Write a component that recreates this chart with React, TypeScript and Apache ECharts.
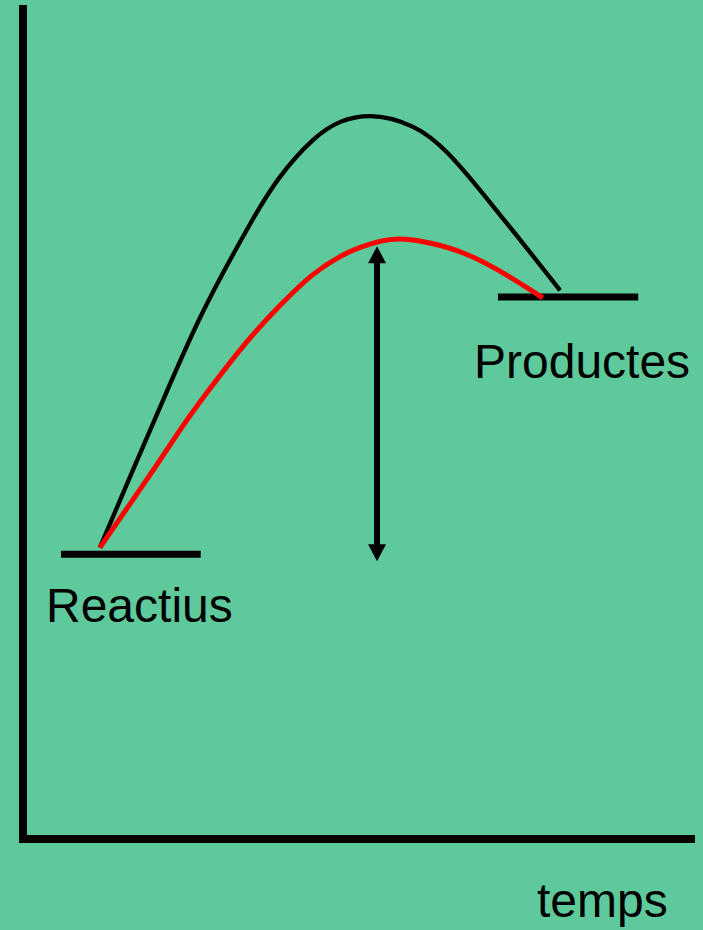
import React, { useEffect, useRef } from "react";
import * as echarts from "echarts";

// Energy diagram: x = temps (0-100), y = energia (0-100)
const blackCurve: number[][] = [
  [11.5, 35.1], [19.0, 49.2], [26.5, 62.8], [34.0, 74.1], [38.5, 79.8],
  [43.4, 84.2], [47.5, 86.4], [52.0, 87.1], [58.4, 85.8], [63.5, 82.7],
  [71.4, 75.2], [80.4, 66.1],
];
const redCurve: number[][] = [
  [11.5, 35.1], [19.8, 44.8], [24.3, 50.2], [28.4, 54.7], [33.5, 59.9],
  [38.5, 64.3], [43.4, 68.0], [48.5, 70.6], [53.4, 72.0], [56.4, 72.3],
  [60.9, 71.8], [65.9, 70.6], [71.0, 68.6], [77.8, 65.2],
];
const reactantLevel: number[][] = [[5.7, 34.3], [26.6, 34.3]];
const productLevel: number[][] = [[71.1, 65.3], [92.1, 65.3]];
const arrowX = 53.0;
const arrowEnds: number[] = [70.4, 34.5];
const labels = ["Reactius", "Productes", "temps"];

export default function App() {
  const ref = useRef<HTMLDivElement>(null);
  useEffect(() => {
    if (!ref.current) return;
    const chart = echarts.init(ref.current, undefined, { renderer: "svg" });
    const font = '48px "Liberation Sans", Arial, sans-serif';
    chart.setOption({
      animation: false,
      backgroundColor: "#5EC99B",
      grid: { left: 23, top: 9, width: 668, height: 830 },
      xAxis: {
        type: "value", min: 0, max: 100,
        axisLine: { show: true, onZero: false, lineStyle: { color: "#000", width: 8, cap: "square" } },
        axisTick: { show: false }, axisLabel: { show: false }, splitLine: { show: false },
      },
      yAxis: {
        type: "value", min: 0, max: 100,
        axisLine: { show: true, onZero: false, lineStyle: { color: "#000", width: 8, cap: "square" } },
        axisTick: { show: false }, axisLabel: { show: false }, splitLine: { show: false },
      },
      series: [
        {
          type: "line", data: reactantLevel, showSymbol: false, symbol: "none", clip: false, silent: true,
          lineStyle: { color: "#000", width: 7 },
        },
        {
          type: "line", data: productLevel, showSymbol: false, symbol: "none", clip: false, silent: true,
          lineStyle: { color: "#000", width: 7 },
        },
        {
          type: "line", data: blackCurve, smooth: 0.33, showSymbol: false, symbol: "none", clip: false, silent: true,
          lineStyle: { color: "#000", width: 4.3 },
        },
        {
          type: "line", data: redCurve, smooth: 0.3, showSymbol: false, symbol: "none", clip: false, silent: true,
          lineStyle: { color: "#FF0000", width: 5 },
        },
        {
          type: "line", data: [], silent: true,
          markLine: {
            silent: true,
            symbol: ["triangle", "triangle"],
            symbolSize: [18, 17],
            label: { show: false },
            lineStyle: { color: "#000", width: 6, type: "solid" },
            emphasis: { disabled: true },
            data: [[{ coord: [arrowX, arrowEnds[0]] }, { coord: [arrowX, arrowEnds[1]] }]],
          },
        },
      ],
      graphic: [
        { type: "text", x: 46, y: 605, style: { text: labels[0], font, fill: "#000", align: "left", verticalAlign: "middle" } },
        { type: "text", x: 474, y: 361, style: { text: labels[1], font, fill: "#000", align: "left", verticalAlign: "middle" } },
        { type: "text", x: 537, y: 900, style: { text: labels[2], font, fill: "#000", align: "left", verticalAlign: "middle" } },
      ],
    });
    return () => chart.dispose();
  }, []);
  return <div ref={ref} style={{ position: "fixed", left: 0, top: 0, width: 703, height: 930 }} />;
}
